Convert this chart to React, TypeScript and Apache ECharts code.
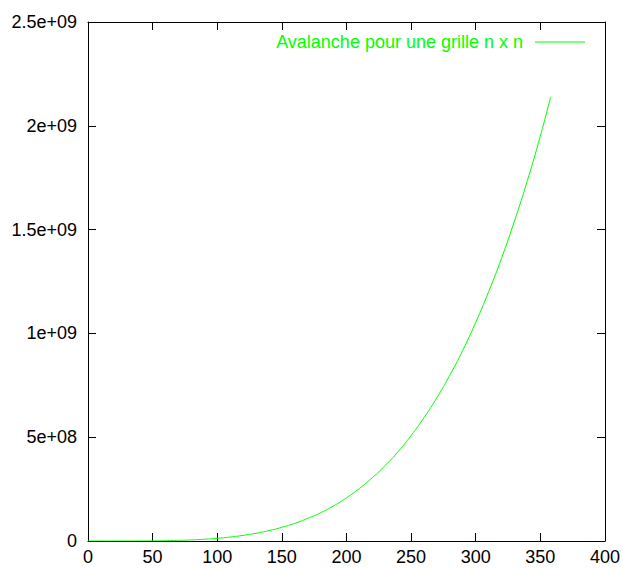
import React, { useEffect, useRef } from "react";
import * as echarts from "echarts";

const nValues = [0, 10, 20, 30, 40, 50, 60, 70, 80, 90, 100, 110, 120, 130, 140, 150, 160, 170, 180, 190, 200, 210, 220, 230, 240, 250, 260, 270, 280, 290, 300, 310, 320, 330, 340, 350, 358];
const avalanche = [0, 1.3e3, 2.1e4, 1.05e5, 3.3e5, 8.1e5, 1.7e6, 3.1e6, 5.3e6, 8.5e6, 1.3e7, 1.9e7, 2.7e7, 3.7e7, 5.0e7, 6.6e7, 8.5e7, 1.09e8, 1.36e8, 1.69e8, 2.08e8, 2.53e8, 3.05e8, 3.64e8, 4.31e8, 5.08e8, 5.94e8, 6.91e8, 7.99e8, 9.19e8, 1.053e9, 1.201e9, 1.363e9, 1.542e9, 1.737e9, 1.951e9, 2.14e9];
const yTickLabels: Record<string, string> = {
  "0": "0",
  "500000000": "5e+08",
  "1000000000": "1e+09",
  "1500000000": "1.5e+09",
  "2000000000": "2e+09",
  "2500000000": "2.5e+09",
};
const seriesName = "Avalanche pour une grille n x n";

const FONT = "'Liberation Sans', Arial, Helvetica, sans-serif";
const GREEN = "#00ff00";

export default function App() {
  const ref = useRef<HTMLDivElement>(null);
  useEffect(() => {
    if (!ref.current) return;
    const chart = echarts.init(ref.current, undefined, { renderer: "svg" });
    const axisLine = { show: true, onZero: false, lineStyle: { color: "#000", width: 1 } };
    const tick = { show: true, inside: true, length: 8, lineStyle: { color: "#000", width: 1 } };
    chart.setOption({
      animation: false,
      backgroundColor: "#fff",
      grid: { left: 88, top: 22, width: 518, height: 519, containLabel: false },
      legend: {
        show: true,
        right: 33,
        top: 28,
        align: "right",
        itemWidth: 50,
        itemHeight: 1,
        data: [{ name: seriesName, icon: "rect" }],
        itemStyle: { color: GREEN, borderWidth: 0 },
        textStyle: { color: GREEN, fontSize: 18, fontFamily: FONT, padding: [0, 7, 0, 0] },
      },
      xAxis: [
        {
          type: "value",
          position: "bottom",
          min: 0,
          max: 400,
          interval: 50,
          axisLine,
          axisTick: tick,
          splitLine: { show: false },
          axisLabel: { color: "#000", fontSize: 18, fontFamily: FONT, margin: 7 },
        },
        {
          type: "value",
          position: "top",
          min: 0,
          max: 400,
          interval: 50,
          axisLine,
          axisTick: tick,
          splitLine: { show: false },
          axisLabel: { show: false },
        },
      ],
      yAxis: [
        {
          type: "value",
          position: "left",
          min: 0,
          max: 2.5e9,
          interval: 5e8,
          axisLine,
          axisTick: tick,
          splitLine: { show: false },
          axisLabel: {
            color: "#000",
            fontSize: 18,
            fontFamily: FONT,
            margin: 11,
            formatter: (v: number) => yTickLabels[String(Math.round(v))] ?? String(v),
          },
        },
        {
          type: "value",
          position: "right",
          min: 0,
          max: 2.5e9,
          interval: 5e8,
          axisLine,
          axisTick: tick,
          splitLine: { show: false },
          axisLabel: { show: false },
        },
      ],
      series: [
        {
          name: seriesName,
          type: "line",
          xAxisIndex: 0,
          yAxisIndex: 0,
          data: nValues.map((n, i) => [n, avalanche[i]]),
          showSymbol: false,
          symbol: "none",
          smooth: true,
          lineStyle: { color: GREEN, width: 1 },
          itemStyle: { color: GREEN },
        },
      ],
    });
    return () => chart.dispose();
  }, []);
  return (
    <div
      ref={ref}
      style={{ position: "fixed", left: 0, top: 0, width: 623, height: 568, background: "#fff" }}
    />
  );
}
